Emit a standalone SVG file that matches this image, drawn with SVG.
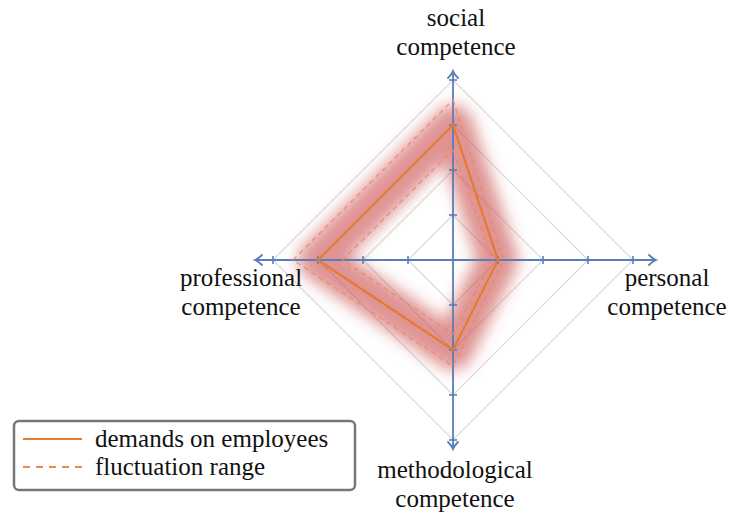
<svg xmlns="http://www.w3.org/2000/svg" width="729" height="513" viewBox="0 0 729 513">
  <defs>
    <filter id="blur" x="-30%" y="-30%" width="160%" height="160%">
      <feGaussianBlur stdDeviation="7.5"/>
    </filter>
    <marker id="arr" viewBox="-8 -6 10 12" markerWidth="10" markerHeight="12" refX="0" refY="0" orient="auto" markerUnits="userSpaceOnUse">
      <path d="M -7 -5 Q -3 -1 0 0 Q -3 1 -7 5" fill="none" stroke="#5b7db5" stroke-width="1.8" stroke-linecap="round"/>
    </marker>
  </defs>

  <g id="grid" fill="none" stroke="#d9d9d9" stroke-width="1.2">
    <polygon points="453,215 498,260 453,305 408,260"/>
    <polygon points="453,170 543,260 453,350 363,260"/>
    <polygon points="453,125 588,260 453,395 318,260"/>
    <polygon points="453,80 633,260 453,440 273,260"/>
  </g>

  <g id="fluctuation-band">
    <polygon points="453,125 498,260 453,350 318,260" fill="none" stroke="#cc5050" stroke-width="40" stroke-opacity="0.62" stroke-linejoin="round" filter="url(#blur)"/>
  </g>

  <g id="axes" stroke="#5b7db5" fill="none">
    <g stroke-width="1.8">
      <line x1="453" y1="260" x2="453" y2="71" marker-end="url(#arr)"/>
      <line x1="453" y1="260" x2="453" y2="449" marker-end="url(#arr)"/>
      <line x1="453" y1="260" x2="255" y2="260" marker-end="url(#arr)"/>
      <line x1="453" y1="260" x2="656" y2="260" marker-end="url(#arr)"/>
    </g>
    <g id="ticks" stroke-width="1.6">
      <line x1="449" y1="215" x2="457" y2="215"/>
      <line x1="449" y1="170" x2="457" y2="170"/>
      <line x1="449" y1="125" x2="457" y2="125"/>
      <line x1="449" y1="80" x2="457" y2="80"/>
      <line x1="449" y1="305" x2="457" y2="305"/>
      <line x1="449" y1="350" x2="457" y2="350"/>
      <line x1="449" y1="395" x2="457" y2="395"/>
      <line x1="449" y1="440" x2="457" y2="440"/>
      <line x1="498" y1="256" x2="498" y2="264"/>
      <line x1="543" y1="256" x2="543" y2="264"/>
      <line x1="588" y1="256" x2="588" y2="264"/>
      <line x1="633" y1="256" x2="633" y2="264"/>
      <line x1="408" y1="256" x2="408" y2="264"/>
      <line x1="363" y1="256" x2="363" y2="264"/>
      <line x1="318" y1="256" x2="318" y2="264"/>
      <line x1="273" y1="256" x2="273" y2="264"/>
    </g>
  </g>

  <g id="fluctuation-range" fill="none" stroke="#e98a5e" stroke-width="1.4" stroke-dasharray="5 4" stroke-opacity="0.8">
    <polygon points="453,100 503.5,260 453,366 293,260"/>
    <polygon points="453,150 492.5,260 453,334 342.5,260"/>
  </g>

  <g id="demands">
    <polygon points="453,125 498,260 453,350 318,260" fill="none" stroke="#e67a2e" stroke-width="2.2"/>
  </g>

  <g id="labels" fill="#111" font-family="Times New Roman, Liberation Serif, Tinos, serif" font-size="25" text-anchor="middle">
    <g id="label-social">
      <text x="456" y="26">social</text>
      <text x="456" y="55">competence</text>
    </g>
    <g id="label-professional">
      <text x="241" y="286">professional</text>
      <text x="241" y="315">competence</text>
    </g>
    <g id="label-personal">
      <text x="667" y="286">personal</text>
      <text x="667" y="315">competence</text>
    </g>
    <g id="label-methodological">
      <text x="455" y="478">methodological</text>
      <text x="455" y="507">competence</text>
    </g>
  </g>

  <g id="legend">
    <rect x="14" y="421" width="341" height="69" rx="5" ry="5" fill="#fff" stroke="#777" stroke-width="2.5"/>
    <line x1="23" y1="439" x2="82" y2="439" stroke="#e67a2e" stroke-width="2.2"/>
    <line x1="23" y1="467" x2="82" y2="467" stroke="#ec8a4a" stroke-width="2" stroke-dasharray="7 6"/>
    <g fill="#111" font-family="Times New Roman, Liberation Serif, Tinos, serif" font-size="25">
      <text x="95" y="447">demands on employees</text>
      <text x="95" y="475">fluctuation range</text>
    </g>
  </g>
</svg>
